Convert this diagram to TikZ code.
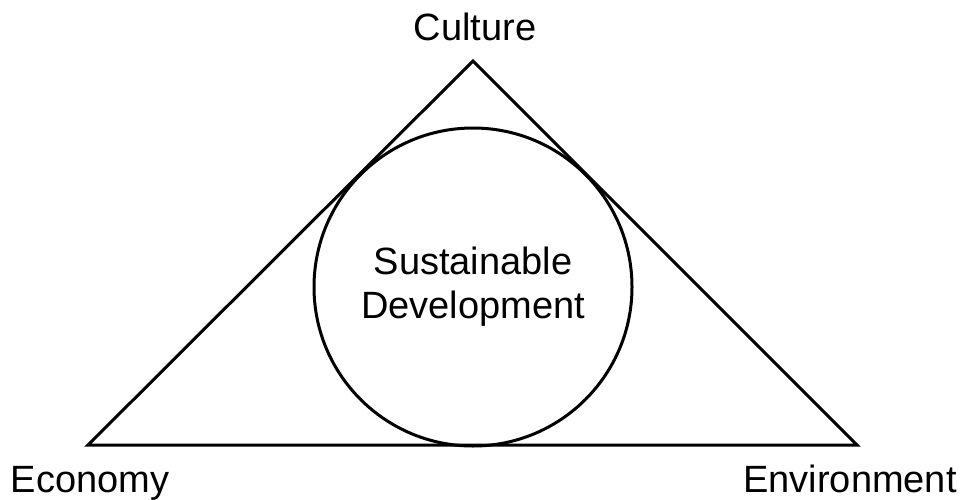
\documentclass[tikz,border=0pt]{standalone}
\usepackage{fontspec}
\setmainfont{Liberation Sans}
\usetikzlibrary{positioning}
\tikzset{
  side/.style={draw,line width=1.5pt,line join=miter},
  hub/.style={circle,draw,line width=1.5pt,minimum size=159pt,inner sep=0pt,
    align=center,font=\fontsize{19}{22}\selectfont},
  pillar/.style={anchor=base,inner sep=0pt,font=\fontsize{19}{22}\selectfont}
}
\begin{document}
\begin{tikzpicture}[x=0.5pt,y=-0.5pt]
      \useasboundingbox (0,0) rectangle (964,499);
      \coordinate (apex) at (473,61);
      \coordinate (lcorner) at (88,445);
      \coordinate (rcorner) at (857,445);
      \draw[side] (lcorner) -- (apex) -- (rcorner) -- cycle;
      \node[hub] (sd) at (473,287) {Sustainable\\Development};
      \node[pillar] (culture) at (475,40) {Culture};
      \node[pillar] (economy) at (90,492) {Economy};
      \node[pillar] (environment) at (850,492) {Environment};
    \end{tikzpicture}
\end{document}
